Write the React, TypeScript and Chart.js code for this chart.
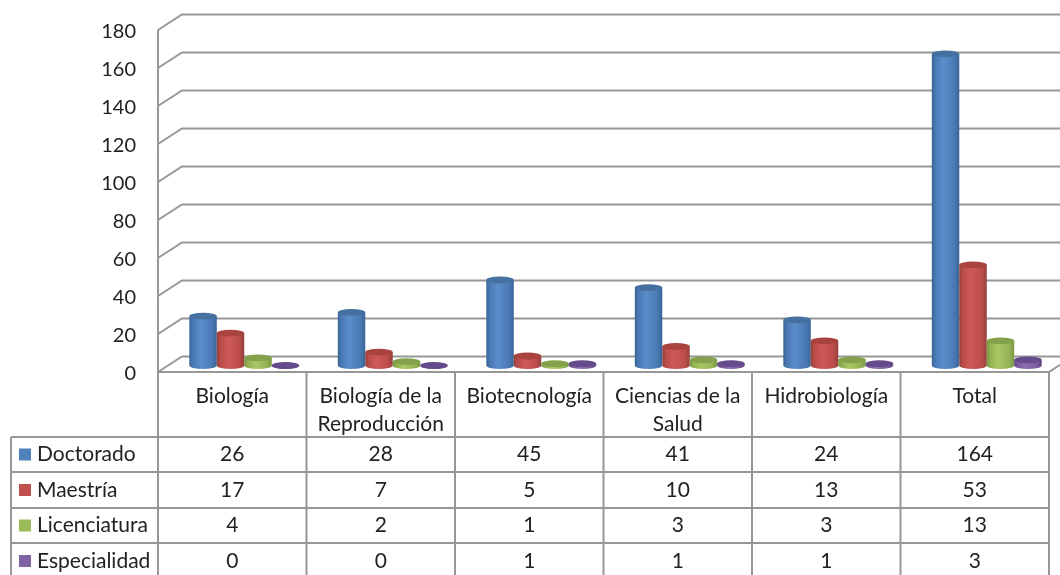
import React, { useEffect, useRef } from "react";
import { Chart, registerables } from "chart.js";

Chart.register(...registerables);

const categories: (string | string[])[] = [
  "Biología",
  ["Biología de la", "Reproducción"],
  "Biotecnología",
  ["Ciencias de la", "Salud"],
  "Hidrobiología",
  "Total",
];
const doctorado = [26, 28, 45, 41, 24, 164];
const maestria = [17, 7, 5, 10, 13, 53];
const licenciatura = [4, 2, 1, 3, 3, 13];
const especialidad = [0, 0, 1, 1, 1, 3];
const seriesNames = ["Doctorado", "Maestría", "Licenciatura", "Especialidad"];
const seriesValues = [doctorado, maestria, licenciatura, especialidad];
const swatchColors = ["#4F81BD", "#C0504D", "#9BBB59", "#8064A2"];
const edgeColors = ["#3a6595", "#94403d", "#7a9643", "#5c447c"];
const midColors = ["#4a7ab5", "#bb4d4a", "#93b355", "#7a5c9e"];
const lightColors = ["#5a8dcb", "#cf5a57", "#a8c964", "#8c6db0"];
const topColors = ["#44719f", "#a94340", "#84a24b", "#654b8b"];

const GRID = "#979797";
const FONT = "Lato, sans-serif";
const FONT_SIZE = 21;
const TICK_SIZE = 20;
const TEXT = "#222222";
const DEPTH_X = 24;
const DEPTH_Y = 15.5;
const BAR_SHIFT_X = 12;
const BAR_SHIFT_Y = 6.5;
const RY = 3.4;
const rowLines = [437, 472, 508, 543, 579];
const legendLeft = 11;

const render3d = {
  id: "render3d",
  beforeDatasetsDraw(chart: any) {
    const { ctx, scales, chartArea } = chart;
    const y = scales.y;
    const { left, right, bottom } = chartArea;
    ctx.save();
    ctx.strokeStyle = GRID;
    ctx.lineWidth = 2;
    y.ticks.forEach((t: any) => {
      const py = y.getPixelForValue(t.value);
      ctx.beginPath();
      ctx.moveTo(left, py);
      ctx.lineTo(left + DEPTH_X, py - DEPTH_Y);
      ctx.lineTo(1075, py - DEPTH_Y);
      ctx.stroke();
    });
    ctx.beginPath();
    ctx.moveTo(left, y.top);
    ctx.lineTo(left, bottom);
    ctx.lineTo(right, bottom);
    ctx.lineTo(right + DEPTH_X, bottom - DEPTH_Y);
    ctx.stroke();
    ctx.restore();
  },
  afterDatasetsDraw(chart: any) {
    const { ctx } = chart;
    ctx.save();
    chart.data.datasets.forEach((_: any, di: number) => {
      chart.getDatasetMeta(di).data.forEach((bar: any) => {
        const hw = bar.width / 2;
        const cx = bar.x + BAR_SHIFT_X;
        const topY = bar.y - BAR_SHIFT_Y;
        const baseY = bar.base - BAR_SHIFT_Y;
        const g = ctx.createLinearGradient(cx - hw, 0, cx + hw, 0);
        g.addColorStop(0, edgeColors[di]);
        g.addColorStop(0.14, midColors[di]);
        g.addColorStop(0.42, lightColors[di]);
        g.addColorStop(0.82, midColors[di]);
        g.addColorStop(1, edgeColors[di]);
        ctx.fillStyle = g;
        ctx.beginPath();
        ctx.moveTo(cx - hw, topY);
        ctx.lineTo(cx - hw, baseY);
        ctx.ellipse(cx, baseY, hw, RY, 0, Math.PI, 0, true);
        ctx.lineTo(cx + hw, topY);
        ctx.closePath();
        ctx.fill();
        ctx.fillStyle = topColors[di];
        ctx.beginPath();
        ctx.ellipse(cx, topY, hw, RY, 0, 0, Math.PI * 2);
        ctx.fill();
      });
    });
    ctx.restore();
  },
  afterDraw(chart: any) {
    const { ctx, scales, chartArea } = chart;
    const x = scales.x;
    const { left, right, bottom } = chartArea;
    const step = (right - left) / categories.length;
    ctx.save();
    ctx.strokeStyle = GRID;
    ctx.lineWidth = 2;
    for (let i = 0; i <= categories.length; i++) {
      const px = left + step * i;
      ctx.beginPath();
      ctx.moveTo(px, bottom);
      ctx.lineTo(px, rowLines[rowLines.length - 1]);
      ctx.stroke();
    }
    rowLines.forEach((ry) => {
      ctx.beginPath();
      ctx.moveTo(legendLeft, ry);
      ctx.lineTo(right, ry);
      ctx.stroke();
    });
    ctx.beginPath();
    ctx.moveTo(legendLeft, rowLines[0]);
    ctx.lineTo(legendLeft, rowLines[rowLines.length - 1]);
    ctx.stroke();

    ctx.font = `${FONT_SIZE}px ${FONT}`;
    ctx.textBaseline = "middle";
    seriesNames.forEach((name, r) => {
      const cy = (rowLines[r] + rowLines[r + 1]) / 2;
      ctx.fillStyle = swatchColors[r];
      ctx.fillRect(19, cy - 6, 12, 12);
      ctx.fillStyle = TEXT;
      ctx.textAlign = "left";
      ctx.fillText(name, 37, cy);
      ctx.textAlign = "center";
      seriesValues[r].forEach((v, c) => {
        ctx.fillText(String(v), x.getPixelForTick(c), cy);
      });
    });
    ctx.restore();
  },
};

export default function App() {
  const ref = useRef<HTMLCanvasElement | null>(null);
  useEffect(() => {
    const chart = new Chart(ref.current as HTMLCanvasElement, {
      type: "bar",
      data: {
        labels: categories as any,
        datasets: seriesNames.map((label, i) => ({
          label,
          data: seriesValues[i],
          backgroundColor: "rgba(0,0,0,0)",
          borderWidth: 0,
          categoryPercentage: 0.74,
          barPercentage: 1,
        })),
      },
      options: {
        responsive: false,
        animation: false,
        layout: { padding: { top: 30, right: 11, left: 0, bottom: 0 } },
        plugins: { legend: { display: false }, tooltip: { enabled: false }, title: { display: false } },
        scales: {
          x: {
            afterFit: (s: any) => { s.height = 203; s.paddingLeft = 0; s.paddingRight = 0; },
            grid: { display: false },
            border: { display: false },
            ticks: {
              autoSkip: false,
              maxRotation: 0,
              minRotation: 0,
              padding: 3,
              color: TEXT,
              font: { family: FONT, size: FONT_SIZE, lineHeight: 1.3 },
            },
          },
          y: {
            min: 0,
            max: 180,
            afterFit: (s: any) => { s.width = 158; s.paddingTop = 0; s.paddingBottom = 0; },
            grid: { display: false, drawTicks: false },
            border: { display: false },
            ticks: {
              stepSize: 20,
              padding: 22,
              labelOffset: 2,
              color: TEXT,
              font: { family: FONT, size: TICK_SIZE },
            },
          },
        },
      },
      plugins: [render3d],
    } as any);
    return () => chart.destroy();
  }, []);
  return (
    <div style={{ position: "fixed", left: 0, top: 0, width: 1060, height: 575, overflow: "hidden", background: "#fff" }}>
      <canvas ref={ref} width={1060} height={575} style={{ display: "block", filter: "blur(0.4px)" }} />
    </div>
  );
}
